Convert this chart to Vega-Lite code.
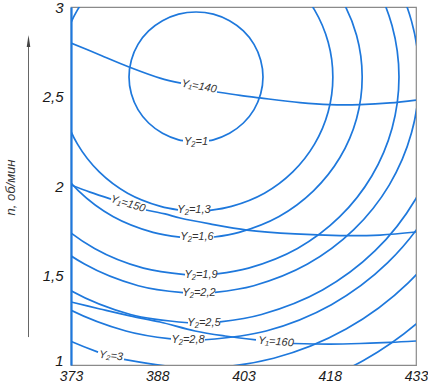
{
  "$schema": "https://vega.github.io/schema/vega-lite/v6.json",
  "width": 345,
  "height": 358,
  "autosize": {"type": "none"},
  "padding": {"left": 71, "top": 7, "right": 12, "bottom": 19},
  "background": "white",
  "config": {
    "view": {"stroke": "#8a8a8a", "strokeWidth": 1.2},
    "font": "Liberation Sans Narrow, Liberation Sans, sans-serif"
  },
  "encoding": {
    "x": {
      "field": "x", "type": "quantitative",
      "scale": {"domain": [373, 433], "nice": false, "zero": false},
      "axis": {
        "values": [373, 388, 403, 418, 433], "grid": false, "ticks": false,
        "labelFlush": false, "labelFont": "Liberation Sans Narrow, Liberation Sans, sans-serif",
        "labelFontStyle": "italic", "labelFontSize": 14, "labelColor": "#1a1a1a",
        "labelPadding": 4, "domainColor": "#8a8a8a", "domainWidth": 1.2, "title": null
      }
    },
    "y": {
      "field": "y", "type": "quantitative",
      "scale": {"domain": [1, 3], "nice": false, "zero": false},
      "axis": {
        "values": [1, 1.5, 2, 2.5, 3], "grid": false, "ticks": false,
        "labelExpr": "replace(format(datum.value, '~g'), '.', ',')",
        "labelBaseline": {"condition": {"test": "datum.value == 1", "value": "alphabetic"}, "value": "middle"},
        "labelFont": "Liberation Sans Narrow, Liberation Sans, sans-serif",
        "labelFontStyle": "italic", "labelFontSize": 15, "labelColor": "#1a1a1a",
        "labelPadding": 8, "domainColor": "#1e78dc", "domainWidth": 2.2,
        "title": "n, об/мин", "titleX": -61, "titleY": 180, "titleAngle": -90,
        "titleAlign": "center", "titleBaseline": "middle",
        "titleFont": "Liberation Sans Narrow, Liberation Sans, sans-serif",
        "titleFontStyle": "italic", "titleFontWeight": "normal", "titleFontSize": 13,
        "titleColor": "#333333"
      }
    }
  },
  "layer": [
    {
      "data": {"values": [
        {"seg": "Y2_1", "i": 0, "x": 397.00, "y": 2.253},
        {"seg": "Y2_1", "i": 1, "x": 397.76, "y": 2.258},
        {"seg": "Y2_1", "i": 2, "x": 400.57, "y": 2.295},
        {"seg": "Y2_1", "i": 3, "x": 402.98, "y": 2.352},
        {"seg": "Y2_1", "i": 4, "x": 404.83, "y": 2.427},
        {"seg": "Y2_1", "i": 5, "x": 405.99, "y": 2.515},
        {"seg": "Y2_1", "i": 6, "x": 406.39, "y": 2.609},
        {"seg": "Y2_1", "i": 7, "x": 405.99, "y": 2.703},
        {"seg": "Y2_1", "i": 8, "x": 404.83, "y": 2.791},
        {"seg": "Y2_1", "i": 9, "x": 402.98, "y": 2.866},
        {"seg": "Y2_1", "i": 10, "x": 400.57, "y": 2.923},
        {"seg": "Y2_1", "i": 11, "x": 397.76, "y": 2.960},
        {"seg": "Y2_1", "i": 12, "x": 394.74, "y": 2.972},
        {"seg": "Y2_1", "i": 13, "x": 391.72, "y": 2.960},
        {"seg": "Y2_1", "i": 14, "x": 388.91, "y": 2.923},
        {"seg": "Y2_1", "i": 15, "x": 386.50, "y": 2.866},
        {"seg": "Y2_1", "i": 16, "x": 384.65, "y": 2.791},
        {"seg": "Y2_1", "i": 17, "x": 383.49, "y": 2.703},
        {"seg": "Y2_1", "i": 18, "x": 383.09, "y": 2.609},
        {"seg": "Y2_1", "i": 19, "x": 383.49, "y": 2.515},
        {"seg": "Y2_1", "i": 20, "x": 384.65, "y": 2.427},
        {"seg": "Y2_1", "i": 21, "x": 386.50, "y": 2.352},
        {"seg": "Y2_1", "i": 22, "x": 388.91, "y": 2.295},
        {"seg": "Y2_1", "i": 23, "x": 391.72, "y": 2.258},
        {"seg": "Y2_1", "i": 24, "x": 392.48, "y": 2.253},

        {"seg": "Y2_13", "i": 0, "x": 397.17, "y": 1.864},
        {"seg": "Y2_13", "i": 1, "x": 400.90, "y": 1.886},
        {"seg": "Y2_13", "i": 2, "x": 406.64, "y": 1.960},
        {"seg": "Y2_13", "i": 3, "x": 411.57, "y": 2.079},
        {"seg": "Y2_13", "i": 4, "x": 415.35, "y": 2.234},
        {"seg": "Y2_13", "i": 5, "x": 417.73, "y": 2.415},
        {"seg": "Y2_13", "i": 6, "x": 418.54, "y": 2.609},
        {"seg": "Y2_13", "i": 7, "x": 417.73, "y": 2.803},
        {"seg": "Y2_13", "i": 8, "x": 415.35, "y": 2.984},
        {"seg": "Y2_13", "i": 9, "x": 411.57, "y": 3.139},
        {"seg": "Y2_13", "i": 10, "x": 406.64, "y": 3.258},
        {"seg": "Y2_13", "i": 11, "x": 400.90, "y": 3.332},
        {"seg": "Y2_13", "i": 12, "x": 394.74, "y": 3.358},
        {"seg": "Y2_13", "i": 13, "x": 388.58, "y": 3.332},
        {"seg": "Y2_13", "i": 14, "x": 382.84, "y": 3.258},
        {"seg": "Y2_13", "i": 15, "x": 377.91, "y": 3.139},
        {"seg": "Y2_13", "i": 16, "x": 374.13, "y": 2.984},
        {"seg": "Y2_13", "i": 17, "x": 371.75, "y": 2.803},
        {"seg": "Y2_13", "i": 18, "x": 370.94, "y": 2.609},
        {"seg": "Y2_13", "i": 19, "x": 371.75, "y": 2.415},
        {"seg": "Y2_13", "i": 20, "x": 374.13, "y": 2.234},
        {"seg": "Y2_13", "i": 21, "x": 377.91, "y": 2.079},
        {"seg": "Y2_13", "i": 22, "x": 382.84, "y": 1.960},
        {"seg": "Y2_13", "i": 23, "x": 388.58, "y": 1.886},
        {"seg": "Y2_13", "i": 24, "x": 391.61, "y": 1.867},

        {"seg": "Y2_16", "i": 0, "x": 397.87, "y": 1.715},
        {"seg": "Y2_16", "i": 1, "x": 402.22, "y": 1.741},
        {"seg": "Y2_16", "i": 2, "x": 409.19, "y": 1.830},
        {"seg": "Y2_16", "i": 3, "x": 415.17, "y": 1.973},
        {"seg": "Y2_16", "i": 4, "x": 419.77, "y": 2.159},
        {"seg": "Y2_16", "i": 5, "x": 422.66, "y": 2.376},
        {"seg": "Y2_16", "i": 6, "x": 423.64, "y": 2.609},
        {"seg": "Y2_16", "i": 7, "x": 422.66, "y": 2.842},
        {"seg": "Y2_16", "i": 8, "x": 419.77, "y": 3.059},
        {"seg": "Y2_16", "i": 9, "x": 415.17, "y": 3.245},
        {"seg": "Y2_16", "i": 10, "x": 409.19, "y": 3.388},
        {"seg": "Y2_16", "i": 11, "x": 402.22, "y": 3.477},
        {"seg": "Y2_16", "i": 12, "x": 394.74, "y": 3.508},
        {"seg": "Y2_16", "i": 13, "x": 387.26, "y": 3.477},
        {"seg": "Y2_16", "i": 14, "x": 380.29, "y": 3.388},
        {"seg": "Y2_16", "i": 15, "x": 374.31, "y": 3.245},
        {"seg": "Y2_16", "i": 16, "x": 369.71, "y": 3.059},
        {"seg": "Y2_16", "i": 17, "x": 366.82, "y": 2.842},
        {"seg": "Y2_16", "i": 18, "x": 365.84, "y": 2.609},
        {"seg": "Y2_16", "i": 19, "x": 366.82, "y": 2.376},
        {"seg": "Y2_16", "i": 20, "x": 369.71, "y": 2.159},
        {"seg": "Y2_16", "i": 21, "x": 374.31, "y": 1.973},
        {"seg": "Y2_16", "i": 22, "x": 380.29, "y": 1.830},
        {"seg": "Y2_16", "i": 23, "x": 387.26, "y": 1.741},
        {"seg": "Y2_16", "i": 24, "x": 391.96, "y": 1.714},

        {"seg": "Y2_19", "i": 0, "x": 398.39, "y": 1.509},
        {"seg": "Y2_19", "i": 1, "x": 403.88, "y": 1.541},
        {"seg": "Y2_19", "i": 2, "x": 412.39, "y": 1.651},
        {"seg": "Y2_19", "i": 3, "x": 419.70, "y": 1.827},
        {"seg": "Y2_19", "i": 4, "x": 425.31, "y": 2.056},
        {"seg": "Y2_19", "i": 5, "x": 428.84, "y": 2.323},
        {"seg": "Y2_19", "i": 6, "x": 430.04, "y": 2.609},
        {"seg": "Y2_19", "i": 7, "x": 428.84, "y": 2.895},
        {"seg": "Y2_19", "i": 8, "x": 425.31, "y": 3.162},
        {"seg": "Y2_19", "i": 9, "x": 419.70, "y": 3.391},
        {"seg": "Y2_19", "i": 10, "x": 412.39, "y": 3.567},
        {"seg": "Y2_19", "i": 11, "x": 403.88, "y": 3.677},
        {"seg": "Y2_19", "i": 12, "x": 394.74, "y": 3.715},
        {"seg": "Y2_19", "i": 13, "x": 385.60, "y": 3.677},
        {"seg": "Y2_19", "i": 14, "x": 377.09, "y": 3.567},
        {"seg": "Y2_19", "i": 15, "x": 369.78, "y": 3.391},
        {"seg": "Y2_19", "i": 16, "x": 364.17, "y": 3.162},
        {"seg": "Y2_19", "i": 17, "x": 360.64, "y": 2.895},
        {"seg": "Y2_19", "i": 18, "x": 359.44, "y": 2.609},
        {"seg": "Y2_19", "i": 19, "x": 360.64, "y": 2.323},
        {"seg": "Y2_19", "i": 20, "x": 364.17, "y": 2.056},
        {"seg": "Y2_19", "i": 21, "x": 369.78, "y": 1.827},
        {"seg": "Y2_19", "i": 22, "x": 377.09, "y": 1.651},
        {"seg": "Y2_19", "i": 23, "x": 385.60, "y": 1.541},
        {"seg": "Y2_19", "i": 24, "x": 392.83, "y": 1.505},

        {"seg": "Y2_22", "i": 0, "x": 398.04, "y": 1.406},
        {"seg": "Y2_22", "i": 1, "x": 404.78, "y": 1.443},
        {"seg": "Y2_22", "i": 2, "x": 414.14, "y": 1.564},
        {"seg": "Y2_22", "i": 3, "x": 422.18, "y": 1.756},
        {"seg": "Y2_22", "i": 4, "x": 428.34, "y": 2.005},
        {"seg": "Y2_22", "i": 5, "x": 432.22, "y": 2.297},
        {"seg": "Y2_22", "i": 6, "x": 433.54, "y": 2.609},
        {"seg": "Y2_22", "i": 7, "x": 432.22, "y": 2.921},
        {"seg": "Y2_22", "i": 8, "x": 428.34, "y": 3.213},
        {"seg": "Y2_22", "i": 9, "x": 422.18, "y": 3.462},
        {"seg": "Y2_22", "i": 10, "x": 414.14, "y": 3.654},
        {"seg": "Y2_22", "i": 11, "x": 404.78, "y": 3.775},
        {"seg": "Y2_22", "i": 12, "x": 394.74, "y": 3.816},
        {"seg": "Y2_22", "i": 13, "x": 384.70, "y": 3.775},
        {"seg": "Y2_22", "i": 14, "x": 375.34, "y": 3.654},
        {"seg": "Y2_22", "i": 15, "x": 367.30, "y": 3.462},
        {"seg": "Y2_22", "i": 16, "x": 361.14, "y": 3.213},
        {"seg": "Y2_22", "i": 17, "x": 357.26, "y": 2.921},
        {"seg": "Y2_22", "i": 18, "x": 355.94, "y": 2.609},
        {"seg": "Y2_22", "i": 19, "x": 357.26, "y": 2.297},
        {"seg": "Y2_22", "i": 20, "x": 361.14, "y": 2.005},
        {"seg": "Y2_22", "i": 21, "x": 367.30, "y": 1.756},
        {"seg": "Y2_22", "i": 22, "x": 375.34, "y": 1.564},
        {"seg": "Y2_22", "i": 23, "x": 384.70, "y": 1.443},
        {"seg": "Y2_22", "i": 24, "x": 392.48, "y": 1.404},

        {"seg": "Y2_25", "i": 0, "x": 398.91, "y": 1.241},
        {"seg": "Y2_25", "i": 1, "x": 406.13, "y": 1.282},
        {"seg": "Y2_25", "i": 2, "x": 416.74, "y": 1.419},
        {"seg": "Y2_25", "i": 3, "x": 425.85, "y": 1.637},
        {"seg": "Y2_25", "i": 4, "x": 432.84, "y": 1.922},
        {"seg": "Y2_25", "i": 5, "x": 437.24, "y": 2.253},
        {"seg": "Y2_25", "i": 6, "x": 438.74, "y": 2.609},
        {"seg": "Y2_25", "i": 7, "x": 437.24, "y": 2.965},
        {"seg": "Y2_25", "i": 8, "x": 432.84, "y": 3.296},
        {"seg": "Y2_25", "i": 9, "x": 425.85, "y": 3.581},
        {"seg": "Y2_25", "i": 10, "x": 416.74, "y": 3.799},
        {"seg": "Y2_25", "i": 11, "x": 406.13, "y": 3.936},
        {"seg": "Y2_25", "i": 12, "x": 394.74, "y": 3.983},
        {"seg": "Y2_25", "i": 13, "x": 383.35, "y": 3.936},
        {"seg": "Y2_25", "i": 14, "x": 372.74, "y": 3.799},
        {"seg": "Y2_25", "i": 15, "x": 363.63, "y": 3.581},
        {"seg": "Y2_25", "i": 16, "x": 356.64, "y": 3.296},
        {"seg": "Y2_25", "i": 17, "x": 352.24, "y": 2.965},
        {"seg": "Y2_25", "i": 18, "x": 350.74, "y": 2.609},
        {"seg": "Y2_25", "i": 19, "x": 352.24, "y": 2.253},
        {"seg": "Y2_25", "i": 20, "x": 356.64, "y": 1.922},
        {"seg": "Y2_25", "i": 21, "x": 363.63, "y": 1.637},
        {"seg": "Y2_25", "i": 22, "x": 372.74, "y": 1.419},
        {"seg": "Y2_25", "i": 23, "x": 383.35, "y": 1.282},
        {"seg": "Y2_25", "i": 24, "x": 393.35, "y": 1.236},

        {"seg": "Y2_28", "i": 0, "x": 396.30, "y": 1.141},
        {"seg": "Y2_28", "i": 1, "x": 406.93, "y": 1.190},
        {"seg": "Y2_28", "i": 2, "x": 418.29, "y": 1.337},
        {"seg": "Y2_28", "i": 3, "x": 428.04, "y": 1.570},
        {"seg": "Y2_28", "i": 4, "x": 435.53, "y": 1.874},
        {"seg": "Y2_28", "i": 5, "x": 440.23, "y": 2.229},
        {"seg": "Y2_28", "i": 6, "x": 441.84, "y": 2.609},
        {"seg": "Y2_28", "i": 7, "x": 440.23, "y": 2.989},
        {"seg": "Y2_28", "i": 8, "x": 435.53, "y": 3.344},
        {"seg": "Y2_28", "i": 9, "x": 428.04, "y": 3.648},
        {"seg": "Y2_28", "i": 10, "x": 418.29, "y": 3.881},
        {"seg": "Y2_28", "i": 11, "x": 406.93, "y": 4.028},
        {"seg": "Y2_28", "i": 12, "x": 394.74, "y": 4.078},
        {"seg": "Y2_28", "i": 13, "x": 382.55, "y": 4.028},
        {"seg": "Y2_28", "i": 14, "x": 371.19, "y": 3.881},
        {"seg": "Y2_28", "i": 15, "x": 361.44, "y": 3.648},
        {"seg": "Y2_28", "i": 16, "x": 353.95, "y": 3.344},
        {"seg": "Y2_28", "i": 17, "x": 349.25, "y": 2.989},
        {"seg": "Y2_28", "i": 18, "x": 347.64, "y": 2.609},
        {"seg": "Y2_28", "i": 19, "x": 349.25, "y": 2.229},
        {"seg": "Y2_28", "i": 20, "x": 353.95, "y": 1.874},
        {"seg": "Y2_28", "i": 21, "x": 361.44, "y": 1.570},
        {"seg": "Y2_28", "i": 22, "x": 371.19, "y": 1.337},
        {"seg": "Y2_28", "i": 23, "x": 382.55, "y": 1.190},
        {"seg": "Y2_28", "i": 24, "x": 390.39, "y": 1.146},

        {"seg": "Y2_30", "i": 0, "x": 382.22, "y": 1.031},
        {"seg": "Y2_30", "i": 1, "x": 394.74, "y": 0.983},
        {"seg": "Y2_30", "i": 2, "x": 408.25, "y": 1.038},
        {"seg": "Y2_30", "i": 3, "x": 420.84, "y": 1.201},
        {"seg": "Y2_30", "i": 4, "x": 431.65, "y": 1.459},
        {"seg": "Y2_30", "i": 5, "x": 439.95, "y": 1.796},
        {"seg": "Y2_30", "i": 6, "x": 445.16, "y": 2.188},
        {"seg": "Y2_30", "i": 7, "x": 446.94, "y": 2.609},
        {"seg": "Y2_30", "i": 8, "x": 445.16, "y": 3.030},
        {"seg": "Y2_30", "i": 9, "x": 439.95, "y": 3.422},
        {"seg": "Y2_30", "i": 10, "x": 431.65, "y": 3.759},
        {"seg": "Y2_30", "i": 11, "x": 420.84, "y": 4.017},
        {"seg": "Y2_30", "i": 12, "x": 408.25, "y": 4.180},
        {"seg": "Y2_30", "i": 13, "x": 394.74, "y": 4.235},
        {"seg": "Y2_30", "i": 14, "x": 381.23, "y": 4.180},
        {"seg": "Y2_30", "i": 15, "x": 368.64, "y": 4.017},
        {"seg": "Y2_30", "i": 16, "x": 357.83, "y": 3.759},
        {"seg": "Y2_30", "i": 17, "x": 349.53, "y": 3.422},
        {"seg": "Y2_30", "i": 18, "x": 344.32, "y": 3.030},
        {"seg": "Y2_30", "i": 19, "x": 342.54, "y": 2.609},
        {"seg": "Y2_30", "i": 20, "x": 344.32, "y": 2.188},
        {"seg": "Y2_30", "i": 21, "x": 349.53, "y": 1.796},
        {"seg": "Y2_30", "i": 22, "x": 357.83, "y": 1.459},
        {"seg": "Y2_30", "i": 23, "x": 368.64, "y": 1.201},
        {"seg": "Y2_30", "i": 24, "x": 377.70, "y": 1.072},

        {"seg": "Y2_33", "i": 0, "x": 379.63, "y": 0.844},
        {"seg": "Y2_33", "i": 1, "x": 394.74, "y": 0.782},
        {"seg": "Y2_33", "i": 2, "x": 409.85, "y": 0.844},
        {"seg": "Y2_33", "i": 3, "x": 423.94, "y": 1.027},
        {"seg": "Y2_33", "i": 4, "x": 436.03, "y": 1.317},
        {"seg": "Y2_33", "i": 5, "x": 445.32, "y": 1.695},
        {"seg": "Y2_33", "i": 6, "x": 451.15, "y": 2.136},

        {"seg": "Y1_140a", "i": 0, "x": 373.00, "y": 2.799},
        {"seg": "Y1_140a", "i": 1, "x": 378.04, "y": 2.732},
        {"seg": "Y1_140a", "i": 2, "x": 383.09, "y": 2.665},
        {"seg": "Y1_140a", "i": 3, "x": 388.48, "y": 2.603},
        {"seg": "Y1_140a", "i": 4, "x": 392.13, "y": 2.575},
        {"seg": "Y1_140b", "i": 0, "x": 398.39, "y": 2.525},
        {"seg": "Y1_140b", "i": 1, "x": 402.39, "y": 2.506},
        {"seg": "Y1_140b", "i": 2, "x": 405.87, "y": 2.492},
        {"seg": "Y1_140b", "i": 3, "x": 412.83, "y": 2.466},
        {"seg": "Y1_140b", "i": 4, "x": 418.04, "y": 2.455},
        {"seg": "Y1_140b", "i": 5, "x": 423.26, "y": 2.455},
        {"seg": "Y1_140b", "i": 6, "x": 428.48, "y": 2.464},
        {"seg": "Y1_140b", "i": 7, "x": 433.00, "y": 2.480},

        {"seg": "Y1_150a", "i": 0, "x": 373.00, "y": 2.006},
        {"seg": "Y1_150a", "i": 1, "x": 376.30, "y": 1.966},
        {"seg": "Y1_150a", "i": 2, "x": 379.96, "y": 1.927},
        {"seg": "Y1_150b", "i": 0, "x": 386.04, "y": 1.866},
        {"seg": "Y1_150b", "i": 1, "x": 389.35, "y": 1.844},
        {"seg": "Y1_150b", "i": 2, "x": 391.96, "y": 1.821},
        {"seg": "Y1_150b", "i": 3, "x": 397.17, "y": 1.788},
        {"seg": "Y1_150b", "i": 4, "x": 403.61, "y": 1.754},
        {"seg": "Y1_150b", "i": 5, "x": 411.96, "y": 1.732},
        {"seg": "Y1_150b", "i": 6, "x": 419.78, "y": 1.723},
        {"seg": "Y1_150b", "i": 7, "x": 426.74, "y": 1.726},
        {"seg": "Y1_150b", "i": 8, "x": 433.00, "y": 1.743},

        {"seg": "Y1_160a", "i": 0, "x": 373.00, "y": 1.352},
        {"seg": "Y1_160a", "i": 1, "x": 378.04, "y": 1.313},
        {"seg": "Y1_160a", "i": 2, "x": 383.26, "y": 1.274},
        {"seg": "Y1_160a", "i": 3, "x": 388.48, "y": 1.240},
        {"seg": "Y1_160a", "i": 4, "x": 394.57, "y": 1.190},
        {"seg": "Y1_160a", "i": 5, "x": 399.78, "y": 1.162},
        {"seg": "Y1_160a", "i": 6, "x": 405.17, "y": 1.140},
        {"seg": "Y1_160b", "i": 0, "x": 411.61, "y": 1.120},
        {"seg": "Y1_160b", "i": 1, "x": 418.04, "y": 1.117},
        {"seg": "Y1_160b", "i": 2, "x": 423.26, "y": 1.120},
        {"seg": "Y1_160b", "i": 3, "x": 428.48, "y": 1.126},
        {"seg": "Y1_160b", "i": 4, "x": 433.00, "y": 1.134}
      ]},
      "mark": {"type": "line", "clip": true, "interpolate": "catmull-rom", "color": "#1e78dc", "strokeWidth": 1.7},
      "encoding": {
        "detail": {"field": "seg", "type": "nominal"},
        "order": {"field": "i", "type": "quantitative"}
      }
    },
    {
      "data": {"values": [
        {"t": "Y₁=140", "x": 395.26, "y": 2.555, "a": 10},
        {"t": "Y₁=150", "x": 382.91, "y": 1.899, "a": 17},
        {"t": "Y₁=160", "x": 408.65, "y": 1.128, "a": 4},
        {"t": "Y₂=1", "x": 394.74, "y": 2.246, "a": 0},
        {"t": "Y₂=1,3", "x": 394.39, "y": 1.866, "a": 0},
        {"t": "Y₂=1,6", "x": 394.91, "y": 1.715, "a": 0},
        {"t": "Y₂=1,9", "x": 395.61, "y": 1.503, "a": 0},
        {"t": "Y₂=2,2", "x": 395.26, "y": 1.402, "a": 0},
        {"t": "Y₂=2,5", "x": 396.13, "y": 1.235, "a": 0},
        {"t": "Y₂=2,8", "x": 393.35, "y": 1.140, "a": 0},
        {"t": "Y₂=3", "x": 379.96, "y": 1.050, "a": 6}
      ]},
      "mark": {"type": "text", "fontStyle": "italic", "fontSize": 11, "color": "#333333", "align": "center", "baseline": "middle"},
      "encoding": {
        "text": {"field": "t", "type": "nominal"},
        "angle": {"field": "a", "type": "quantitative", "scale": null}
      }
    },
    {
      "data": {"values": [{"x": 365.61, "y": 2.80, "y2": 1.156}]},
      "mark": {"type": "rule", "color": "#666666", "strokeWidth": 1},
      "encoding": {"y2": {"field": "y2"}}
    },
    {
      "data": {"values": [{"x": 365.61, "y": 2.81}]},
      "mark": {"type": "point", "filled": true, "opacity": 1, "color": "#444444", "shape": "M0,-1L0.3,1L-0.3,1Z", "size": 144},
      "encoding": {}
    }
  ]
}
